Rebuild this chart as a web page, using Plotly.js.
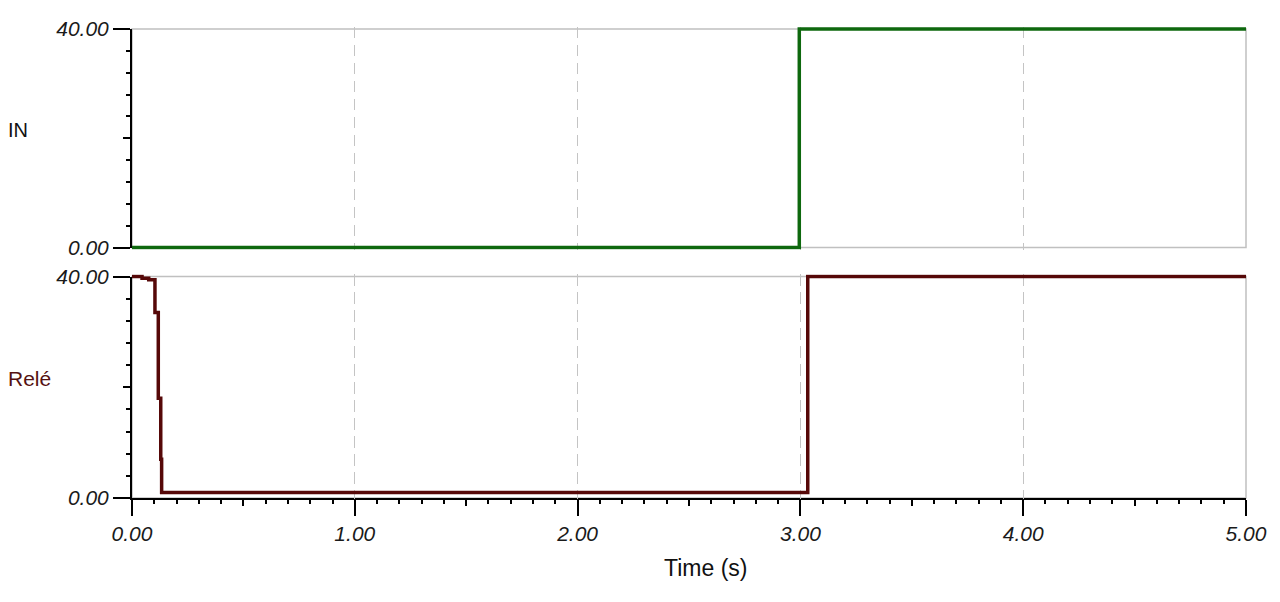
<!DOCTYPE html>
<html>
<head>
<meta charset="utf-8">
<script src="https://cdn.plot.ly/plotly-3.0.1.min.js"></script>
<style>html,body{margin:0;padding:0;background:#fff;}#chart{width:1280px;height:602px;}</style>
</head>
<body>
<div id="chart"></div>
<script>
// Step data (time in s)
var inTime = [0, 2.995, 5];
var inValue = [0, 40, 40];
var releTime = [0, 0.045, 0.075, 0.103, 0.118, 0.129, 0.133, 3.033, 5];
var releValue = [40, 39.7, 39.4, 33.5, 18.0, 7.0, 1.0, 40, 40];
var seriesNames = ['IN', 'Relé'];
var xTitle = 'Time (s)';
var xTickVals = [0, 1, 2, 3, 4, 5];
var xTickText = ['0.00', '1.00', '2.00', '3.00', '4.00', '5.00'];
var xHalfTicks = [0.5, 1.5, 2.5, 3.5, 4.5];
var yTickVals = [0, 40];
var yTickText = ['0.00', '40.00'];
var yMidTicks = [20];

var green = '#0e680e';
var maroon = '#560808';
var fam = 'Liberation Sans, Arial, sans-serif';
var tickFont = {family: fam, size: 21, style: 'italic', color: '#1a1a1a'};

// page geometry (pixels)
var W = 1280, H = 602, T = 26, B = 101;
function py(p) { return (H - B - p) / (H - T - B); }
var topPx = [247.5, 29], botPx = [498, 276.5];
var topDom = [py(topPx[0]), py(topPx[1])];
var botDom = [py(botPx[0]), py(botPx[1])];
var pad = 0.4; // extra value room so thick lines at the edges are not clipped
function extDom(dom) {
  var span = dom[1] - dom[0];
  var e = span * pad / 40;
  return [dom[0] - e, dom[1] + e];
}

var traces = [
  {x: inTime, y: inValue, xaxis: 'x', yaxis: 'y5', mode: 'lines', line: {shape: 'hv', color: green, width: 3.5}, cliponaxis: false, hoverinfo: 'skip', showlegend: false, name: seriesNames[0]},
  {x: releTime, y: releValue, xaxis: 'x2', yaxis: 'y6', mode: 'lines', line: {shape: 'hv', color: maroon, width: 3.5}, cliponaxis: false, hoverinfo: 'skip', showlegend: false, name: seriesNames[1]},
  // invisible helpers so the tick axes get drawn
  {x: inTime, y: inValue, xaxis: 'x', yaxis: 'y', mode: 'none', hoverinfo: 'skip', showlegend: false},
  {x: releTime, y: releValue, xaxis: 'x2', yaxis: 'y2', mode: 'none', hoverinfo: 'skip', showlegend: false},
  {x: inTime, y: inValue, xaxis: 'x', yaxis: 'y3', mode: 'none', hoverinfo: 'skip', showlegend: false},
  {x: releTime, y: releValue, xaxis: 'x3', yaxis: 'y4', mode: 'none', hoverinfo: 'skip', showlegend: false}
];

function yAx(dom, extra) {
  var a = {
    domain: dom, range: [0, 40], fixedrange: true,
    showline: true, linecolor: '#000', linewidth: 2,
    ticks: 'outside', ticklen: 17, tickwidth: 2, tickcolor: '#000',
    tickvals: yTickVals, ticktext: yTickText, tickfont: tickFont,
    showgrid: false, zeroline: false,
    minor: {dtick: 4, tick0: 0, ticks: 'outside', ticklen: 4, tickwidth: 2, tickcolor: '#000', showgrid: false}
  };
  for (var k in extra) a[k] = extra[k];
  return a;
}
function yMid(over, anchor) {
  return {range: [0, 40], fixedrange: true, overlaying: over, anchor: anchor, side: 'left',
    showline: false, showgrid: false, zeroline: false, showticklabels: false,
    ticks: 'outside', ticklen: 8, tickwidth: 2, tickcolor: '#000', tickvals: yMidTicks};
}
function yHidden(dom, anchor) {
  return {domain: extDom(dom), range: [-pad, 40 + pad], fixedrange: true, anchor: anchor, visible: false};
}

var layout = {
  width: W, height: H,
  margin: {l: 132, r: 34, t: T, b: B},
  paper_bgcolor: '#fff', plot_bgcolor: 'rgba(0,0,0,0)',
  showlegend: false,
  xaxis: {
    domain: [0, 1], range: [0, 5], fixedrange: true, anchor: 'y',
    showline: false, ticks: '', showticklabels: false, zeroline: false,
    tickvals: xTickVals,
    showgrid: true, gridcolor: '#c4c4c4', gridwidth: 1, griddash: 'dash'
  },
  xaxis2: {
    domain: [0, 1], range: [0, 5], fixedrange: true, anchor: 'y2',
    showline: true, linecolor: '#000', linewidth: 2, zeroline: false,
    ticks: 'outside', ticklen: 16, tickwidth: 2, tickcolor: '#000',
    tickvals: xTickVals, ticktext: xTickText, tickfont: tickFont,
    showgrid: true, gridcolor: '#c4c4c4', gridwidth: 1, griddash: 'dash',
    minor: {dtick: 0.1, tick0: 0, ticks: 'outside', ticklen: 4, tickwidth: 2, tickcolor: '#000', showgrid: false}
  },
  xaxis3: {
    domain: [0, 1], range: [0, 5], fixedrange: true, anchor: 'y2', overlaying: 'x2', side: 'bottom',
    showline: false, showgrid: false, zeroline: false, showticklabels: false,
    ticks: 'outside', ticklen: 7, tickwidth: 2, tickcolor: '#000', tickvals: xHalfTicks
  },
  yaxis: yAx(topDom, {anchor: 'x'}),
  yaxis2: yAx(botDom, {anchor: 'x2'}),
  yaxis3: yMid('y', 'x'),
  yaxis4: yMid('y2', 'x3'),
  yaxis5: yHidden(topDom, 'x'),
  yaxis6: yHidden(botDom, 'x2'),
  shapes: [
    {type: 'rect', xref: 'paper', yref: 'paper', x0: 0, x1: 1, y0: topDom[0], y1: topDom[1], line: {color: '#c0c0c0', width: 1.5}, layer: 'below'},
    {type: 'rect', xref: 'paper', yref: 'paper', x0: 0, x1: 1, y0: botDom[0], y1: botDom[1], line: {color: '#c0c0c0', width: 1.5}, layer: 'below'}
  ],
  annotations: [
    {text: seriesNames[0], xref: 'paper', yref: 'paper', x: -0.113, y: py(130), xanchor: 'left', yanchor: 'middle', showarrow: false,
     font: {family: fam, size: 20, color: '#111'}},
    {text: seriesNames[1], xref: 'paper', yref: 'paper', x: -0.113, y: py(378), xanchor: 'left', yanchor: 'middle', showarrow: false,
     font: {family: fam, size: 21, color: '#561212'}},
    {text: xTitle, xref: 'paper', yref: 'paper', x: 0.5144, y: py(568), xanchor: 'center', yanchor: 'middle', showarrow: false,
     font: {family: fam, size: 23, color: '#111'}}
  ]
};

Plotly.newPlot('chart', traces, layout, {staticPlot: true, displayModeBar: false});
</script>
</body>
</html>
